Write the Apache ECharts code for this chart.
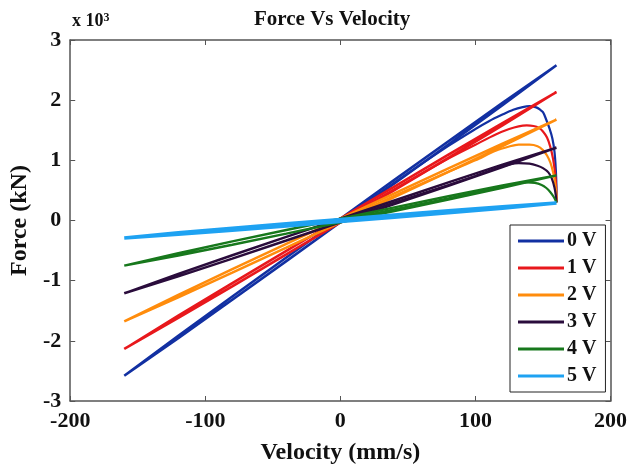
<!DOCTYPE html>
<html>
<head>
<meta charset="utf-8">
<script src="https://cdn.jsdelivr.net/npm/echarts@6/dist/echarts.min.js"></script>
<style>html,body{margin:0;padding:0;background:#fff;}#c{width:630px;height:470px;}</style>
</head>
<body>
<div id="c"></div>
<script>
const voltages = ['0 V', '1 V', '2 V', '3 V', '4 V', '5 V'];
const xTicks = [-200, -100, 0, 100, 200];
const yTicks = [-3, -2, -1, 0, 1, 2, 3];

// narrow hysteresis loops (velocity mm/s, force x10^3 kN)
const loopVel = [-160, -120, -80, -40, 0, 40, 80, 120, 160];
const loopUp0 = [-2.58, -1.915, -1.262, -0.615, 0.03, 0.675, 1.318, 1.955, 2.58];
const loopDown0 = [-2.58, -1.955, -1.318, -0.675, -0.03, 0.615, 1.262, 1.915, 2.58];
const loopUp1 = [-2.135, -1.581, -1.04, -0.504, 0.03, 0.564, 1.096, 1.621, 2.135];
const loopDown1 = [-2.135, -1.621, -1.096, -0.564, -0.03, 0.504, 1.04, 1.581, 2.135];
const loopUp2 = [-1.675, -1.236, -0.81, -0.389, 0.03, 0.449, 0.866, 1.276, 1.675];
const loopDown2 = [-1.675, -1.276, -0.866, -0.449, -0.03, 0.389, 0.81, 1.236, 1.675];
const loopUp3 = [-1.21, -0.888, -0.577, -0.273, 0.03, 0.333, 0.633, 0.928, 1.21];
const loopDown3 = [-1.21, -0.928, -0.633, -0.333, -0.03, 0.273, 0.577, 0.888, 1.21];
const loopUp4 = [-0.75, -0.543, -0.347, -0.158, 0.03, 0.218, 0.403, 0.583, 0.75];
const loopDown4 = [-0.75, -0.583, -0.403, -0.218, -0.03, 0.158, 0.347, 0.543, 0.75];
const loopUp5 = [-0.29, -0.205, -0.127, -0.052, 0.018, 0.092, 0.163, 0.23, 0.29];
const loopDown5 = [-0.29, -0.23, -0.163, -0.092, -0.018, 0.052, 0.127, 0.205, 0.29];

// curved return branches near the positive end
const curveVel0 = [0, 40, 80, 100, 110, 120, 128, 135, 140, 145, 148, 150, 152, 155, 157, 158.5, 159.5, 160, 160];
const curveF0 = [0, 0.63, 1.24, 1.52, 1.65, 1.76, 1.84, 1.885, 1.9, 1.88, 1.84, 1.80, 1.70, 1.52, 1.36, 1.15, 0.85, 0.5, 0.3];
const curveVel1 = [0, 40, 80, 100, 115, 125, 132, 138, 143, 147, 150, 153, 155.5, 157.5, 159, 159.8, 160];
const curveF1 = [0, 0.52, 1.03, 1.26, 1.43, 1.52, 1.565, 1.58, 1.57, 1.54, 1.48, 1.38, 1.22, 1.02, 0.78, 0.55, 0.32];
const curveVel2 = [0, 40, 80, 100, 115, 125, 132, 140, 146, 150, 153, 155.5, 157.5, 159, 160, 160];
const curveF2 = [0, 0.41, 0.81, 1.0, 1.16, 1.23, 1.26, 1.26, 1.235, 1.17, 1.08, 0.96, 0.80, 0.62, 0.40, 0.3];
const curveVel3 = [0, 40, 80, 100, 115, 125, 132, 140, 146, 150, 154, 156.5, 158.5, 159.5, 160];
const curveF3 = [0, 0.30, 0.59, 0.74, 0.86, 0.93, 0.955, 0.945, 0.91, 0.87, 0.80, 0.70, 0.55, 0.42, 0.3];
const curveVel4 = [0, 40, 80, 100, 115, 125, 132, 138, 144, 149, 152.5, 155.5, 158, 160];
const curveF4 = [0, 0.185, 0.37, 0.465, 0.54, 0.59, 0.62, 0.635, 0.625, 0.59, 0.54, 0.47, 0.39, 0.3];

const colors = ['#1230a2', '#e8181c', '#ff8c0c', '#2a0c3c', '#17781c', '#1ea2f2'];

const loops = [[loopUp0, loopDown0], [loopUp1, loopDown1], [loopUp2, loopDown2],
               [loopUp3, loopDown3], [loopUp4, loopDown4], [loopUp5, loopDown5]];
const curves = [[curveVel0, curveF0], [curveVel1, curveF1], [curveVel2, curveF2],
                [curveVel3, curveF3], [curveVel4, curveF4], null];

const serif = 'Liberation Serif';
const series = [];
voltages.forEach((name, k) => {
  const up = loops[k][0], down = loops[k][1];
  const pts = loopVel.map((v, i) => [v, up[i]]);
  for (let i = loopVel.length - 1; i >= 0; i--) pts.push([loopVel[i], down[i]]);
  const lw = k === 5 ? 3.5 : 2.5;
  series.push({
    name: name, type: 'line', data: pts, symbol: 'none', silent: true,
    lineStyle: { color: colors[k], width: lw }, itemStyle: { color: colors[k] }, z: 2 + k
  });
  if (curves[k]) {
    const cv = curves[k][0], cf = curves[k][1];
    series.push({
      name: name, type: 'line', data: cv.map((v, i) => [v, cf[i]]), symbol: 'none', silent: true,
      smooth: 0.3,
      lineStyle: { color: colors[k], width: 2.2 }, itemStyle: { color: colors[k] }, z: 2 + k
    });
  }
});

const chart = echarts.init(document.getElementById('c'));
const axisLbl = { fontFamily: serif, fontWeight: 'bold', fontSize: 22, color: '#111' };
chart.setOption({
  animation: false,
  backgroundColor: '#fff',
  grid: { left: 67, right: 18, top: 40, bottom: 67, show: false },
  xAxis: [{
    type: 'value', min: xTicks[0], max: xTicks[xTicks.length - 1], interval: 100,
    splitLine: { show: false },
    axisLine: { onZero: false, lineStyle: { color: '#555', width: 1.5 } },
    axisTick: { inside: true, length: 5, lineStyle: { color: '#555' } },
    axisLabel: Object.assign({ margin: 9 }, axisLbl),
    name: 'Velocity (mm/s)', nameLocation: 'middle', nameGap: 40,
    nameTextStyle: { fontFamily: serif, fontWeight: 'bold', fontSize: 24, color: '#111' }
  }, {
    type: 'value', position: 'top', min: xTicks[0], max: xTicks[xTicks.length - 1], interval: 100,
    splitLine: { show: false },
    axisLine: { onZero: false, lineStyle: { color: '#555', width: 1.5 } },
    axisTick: { inside: true, length: 5, lineStyle: { color: '#555' } },
    axisLabel: { show: false }
  }],
  yAxis: [{
    type: 'value', min: yTicks[0], max: yTicks[yTicks.length - 1], interval: 1,
    splitLine: { show: false },
    axisLine: { onZero: false, lineStyle: { color: '#555', width: 1.5 } },
    axisTick: { inside: true, length: 5, lineStyle: { color: '#555' } },
    axisLabel: Object.assign({ margin: 9 }, axisLbl),
    name: 'Force (kN)', nameLocation: 'middle', nameGap: 34, nameRotate: 90,
    nameTextStyle: { fontFamily: serif, fontWeight: 'bold', fontSize: 24, color: '#111' }
  }, {
    type: 'value', position: 'right', min: yTicks[0], max: yTicks[yTicks.length - 1], interval: 1,
    splitLine: { show: false },
    axisLine: { onZero: false, lineStyle: { color: '#555', width: 1.5 } },
    axisTick: { inside: true, length: 5, lineStyle: { color: '#555' } },
    axisLabel: { show: false }
  }],
  legend: {
    data: voltages.map(v => ({ name: v, icon: 'rect' })),
    orient: 'vertical', left: 510, top: 225,
    itemWidth: 46, itemHeight: 3, itemGap: 7,
    padding: [6, 9, 6, 8],
    borderColor: '#222', borderWidth: 1, backgroundColor: '#fff',
    selectedMode: false,
    textStyle: { fontFamily: serif, fontWeight: 'bold', fontSize: 20, color: '#111', padding: [0, 0, 0, -2] }
  },
  graphic: [{
    type: 'text', left: 340 - 86, top: 9, z: 100,
    style: { text: 'Force Vs Velocity', fontFamily: serif, fontWeight: 'bold', fontSize: 21, fill: '#111' }
  }, {
    type: 'text', left: 72, top: 12, z: 100,
    style: {
      text: '{a|x 10}{b|3}', fill: '#111',
      rich: {
        a: { fontFamily: serif, fontWeight: 'bold', fontSize: 18, fill: '#111' },
        b: { fontFamily: serif, fontWeight: 'bold', fontSize: 12, fill: '#111', verticalAlign: 'top', padding: [0, 0, 6, 0] }
      }
    }
  }],
  series: series
});
</script>
</body>
</html>
